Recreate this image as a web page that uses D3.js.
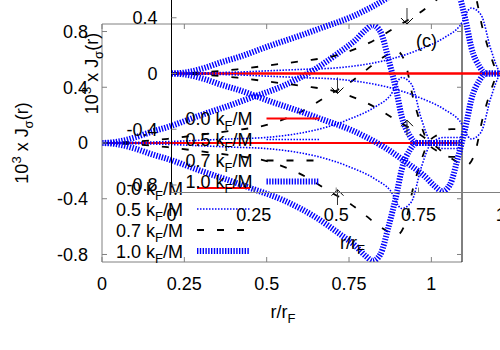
<!DOCTYPE html>
<html>
<head>
<meta charset="utf-8">
<script src="https://cdn.jsdelivr.net/npm/d3@7"></script>
<style>
  body { margin: 0; background: #fff; }
  svg { display: block; font-family: "Liberation Sans", Arial, sans-serif; }
</style>
</head>
<body>
<div id="chart"></div>
<script>
// tick values
const xTicks = [0, 0.25, 0.5, 0.75, 1];
const yTicks = [-0.8, -0.4, 0, 0.4, 0.8];
const xTickLabels = ["0", "0.25", "0.5", "0.75", "1"];
const yTickLabels = ["-0.8", "-0.4", "0", "0.4", "0.8"];

// series labels (k_F/M)
const kLabels = ["0.0", "0.5", "0.7", "1.0"];

// 0.0 k_F/M
const r00 = [0, 0.5, 1.093];
const j00 = [0, 0, 0];

// 0.5 k_F/M
const r05 = [0, 0.1, 0.2, 0.3, 0.4, 0.5, 0.6, 0.66, 0.75, 0.83, 0.875, 0.91, 0.94, 0.97, 1.0, 1.04, 1.093];
const j05 = [0, 0.005, 0.01, 0.02, 0.03, 0.04, 0.07, 0.1, 0.17, 0.26, 0.34, 0.47, 0.42, 0.17, 0, -0.04, -0.04];

// 0.7 k_F/M
const r07 = [0, 0.1, 0.2, 0.3, 0.4, 0.5, 0.6, 0.7, 0.75, 0.8, 0.85, 0.895, 0.92, 0.945, 0.97, 0.99, 1.02, 1.06, 1.093];
const j07 = [0, 0.01, 0.03, 0.06, 0.09, 0.13, 0.22, 0.36, 0.43, 0.52, 0.61, 0.66, 0.58, 0.32, 0.12, 0, -0.06, -0.1, -0.1];

// 1.0 k_F/M
const r10 = [0, 0.05, 0.1, 0.15, 0.2, 0.3, 0.4, 0.45, 0.55, 0.65, 0.72, 0.77, 0.8, 0.822, 0.845, 0.87, 0.895, 0.91, 0.935, 0.955, 1.0, 1.093];
const j10 = [0, 0.01, 0.04, 0.08, 0.115, 0.2, 0.28, 0.323, 0.41, 0.535, 0.65, 0.74, 0.81, 0.845, 0.8, 0.6, 0.36, 0.19, 0.05, 0, 0, 0];

// arrows (x, tail y, head y)
const arrowX = [0.715, 0.715];
const arrowFrom = [0.47, -0.445];
const arrowTo = [0.355, -0.335];

const width = 500, height = 350;
const plotW = 360, plotH = 238;

const svg = d3.select("#chart").append("svg").attr("width", width).attr("height", height);

const x = d3.scaleLinear().domain([0, 1.093]).range([0, plotW]);
const y = d3.scaleLinear().domain([-0.854, 0.854]).range([plotH, 0]);

const styles = [
    {color: "red", width: 2, dash: null},
    {color: "blue", width: 1.6, dash: "1.5,1.5"},
    {color: "black", width: 1.8, dash: "7,13"},
    {color: "blue", width: 6, dash: "1.4,1.4"}
];
const seriesR = [r00, r05, r07, r10];
const seriesJ = [j00, j05, j07, j10];

const line = d3.line().x(d => x(d[0])).y(d => y(d[1])).curve(d3.curveMonotoneX);

function kText(sel, lead) {
    sel.append("tspan").text(lead + " k");
    sel.append("tspan").attr("font-size", 13).attr("dy", 5).text("F");
    sel.append("tspan").attr("dy", -5).text("/M");
}

function drawPanel(ox, oy, id, blackSide, showC) {
    const g = svg.append("g").attr("transform", `translate(${ox},${oy})`);

    g.append("clipPath").attr("id", id).append("rect").attr("width", plotW).attr("height", plotH);

    //curves, both spin branches
    const curves = g.append("g").attr("clip-path", `url(#${id})`);
    seriesR.forEach((rs, i) => {
        [1, -1].forEach(s => {
            const pts = rs.map((r, k) => [r, s * seriesJ[i][k]]);
            curves.append("path").attr("d", line(pts)).attr("fill", "none")
                .attr("stroke", styles[i].color).attr("stroke-width", styles[i].width)
                .attr("stroke-dasharray", styles[i].dash);
        });
    });

    //frame
    const gray = "#808080";
    g.append("line").attr("x1", 0).attr("x2", plotW).attr("y1", 0).attr("y2", 0).attr("stroke", gray);
    g.append("line").attr("x1", 0).attr("x2", plotW).attr("y1", plotH).attr("y2", plotH).attr("stroke", gray);
    g.append("line").attr("x1", 0).attr("x2", 0).attr("y1", 0).attr("y2", plotH).attr("stroke", blackSide === "left" ? "black" : gray);
    g.append("line").attr("x1", plotW).attr("x2", plotW).attr("y1", 0).attr("y2", plotH).attr("stroke", blackSide === "right" ? "black" : gray);

    //ticks
    xTicks.forEach(t => {
        g.append("line").attr("x1", x(t)).attr("x2", x(t)).attr("y1", plotH).attr("y2", plotH - 5).attr("stroke", gray);
        g.append("line").attr("x1", x(t)).attr("x2", x(t)).attr("y1", 0).attr("y2", 5).attr("stroke", gray);
    });
    yTicks.forEach(t => {
        g.append("line").attr("x1", 0).attr("x2", 5).attr("y1", y(t)).attr("y2", y(t)).attr("stroke", gray);
        g.append("line").attr("x1", plotW).attr("x2", plotW - 5).attr("y1", y(t)).attr("y2", y(t)).attr("stroke", gray);
    });

    //tick labels
    g.selectAll(".xl").data(xTicks).enter().append("text")
        .attr("x", d => x(d)).attr("y", plotH + 28).attr("text-anchor", "middle")
        .attr("font-size", 18).text((d, i) => xTickLabels[i]);
    g.selectAll(".yl").data(yTicks).enter().append("text")
        .attr("x", -14).attr("y", d => y(d)).attr("dy", "0.35em").attr("text-anchor", "end")
        .attr("font-size", 18).text((d, i) => yTickLabels[i]);

    //axis titles
    const xt = g.append("text").attr("x", plotW / 2 + 1).attr("y", plotH + 56)
        .attr("text-anchor", "middle").attr("font-size", 18);
    xt.append("tspan").text("r/r");
    xt.append("tspan").attr("font-size", 13).attr("dy", 5).text("F");

    const yt = g.append("text").attr("transform", `translate(-74,${plotH / 2}) rotate(-90)`)
        .attr("text-anchor", "middle").attr("font-size", 18);
    yt.append("tspan").text("10");
    yt.append("tspan").attr("font-size", 13).attr("dy", -7).text("3");
    yt.append("tspan").attr("dy", 7).text(" x J");
    yt.append("tspan").attr("font-size", 13).attr("dy", 5).text("σ");
    yt.append("tspan").attr("dy", -5).text("(r)");

    //arrows
    arrowX.forEach((ax, i) => {
        const px = x(ax), y0 = y(arrowFrom[i]), y1 = y(arrowTo[i]);
        const dir = y1 > y0 ? -1 : 1;
        g.append("line").attr("x1", px).attr("x2", px).attr("y1", y0).attr("y2", y1).attr("stroke", "#333");
        g.append("path").attr("d", `M${px - 6},${y1 + dir * 6}L${px},${y1}L${px + 6},${y1 + dir * 6}`)
            .attr("fill", "none").attr("stroke", "black");
    });

    //legend
    kLabels.forEach((k, i) => {
        const ry = plotH - 74 + i * 21;
        const t = g.append("text").attr("x", 81).attr("y", ry + 6.5).attr("text-anchor", "end").attr("font-size", 18);
        kText(t, k);
        g.append("line").attr("x1", 95).attr("x2", 148).attr("y1", ry).attr("y2", ry)
            .attr("stroke", styles[i].color).attr("stroke-width", styles[i].width)
            .attr("stroke-dasharray", styles[i].dash);
    });

    if (showC) {
        g.append("text").attr("x", 255).attr("y", 92).attr("text-anchor", "middle")
            .attr("font-size", 18).text("(c)");
    }
}

drawPanel(102, 24, "clipMain", "right", false);
drawPanel(171.5, -45.5, "clipSecond", "left", true);
</script>
</body>
</html>
